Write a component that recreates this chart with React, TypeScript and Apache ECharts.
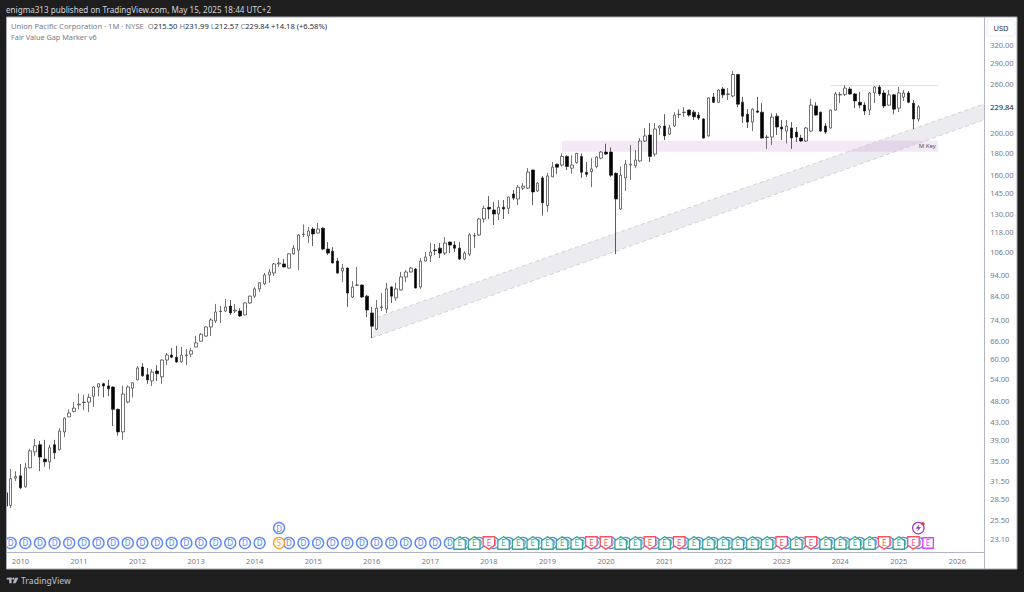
import React, { useEffect, useRef } from "react";
import * as echarts from "echarts";

// Monthly candles starting Oct 2009 (UNP)
const opens = [29.5,27.6,31.9,32.3,30.5,33.7,36.7,38.1,35.3,34.8,38.1,37.1,40.8,44.2,45.5,47.1,47.7,47.8,49.3,51.8,52.7,52.1,51.8,46.0,40.8,47.8,51.5,53.8,57.6,55.3,53.5,56.4,54.7,59.8,61.4,60.7,59.2,61.2,61.7,64.1,66.1,67.9,71.3,73.6,77.4,77.6,79.7,77.6,77.6,76.0,81.0,84.0,87.3,89.7,94.0,95.0,99.7,99.7,97.5,105.2,107.3,116.6,115.7,120.0,117.5,120.6,107.9,106.7,101.2,96.0,97.5,83.6,89.0,89.1,84.0,76.8,70.5,79.0,78.4,88.2,83.2,86.8,93.0,95.5,97.0,88.2,101.2,104.0,107.3,108.4,105.6,112.0,110.2,108.4,102.3,105.0,115.7,116.3,126.6,134.7,132.8,130.0,134.7,134.0,144.6,140.8,149.2,149.2,164.3,147.0,157.5,136.0,158.4,169.5,168.7,176.6,165.9,170.9,176.6,162.3,162.8,167.4,175.0,180.7,180.7,161.4,133.5,157.5,168.7,168.0,172.4,191.7,197.9,178.8,205.4,207.6,198.9,207.6,220.5,223.0,226.0,223.5,220.0,215.4,196.9,242.2,235.6,252.7,245.6,243.5,273.0,235.6,221.1,212.0,224.8,223.5,195.3,195.8,218.8,206.5,202.1,205.4,201.0,194.7,191.7,202.1,231.0,223.5,207.6,205.4,226.0,244.9,245.6,252.7,246.2,235.6,232.0,226.0,247.5,255.4,247.5,232.0,245.0,228.3,242.2,247.5,234.4,215.5];
const highs = [30.2,33.5,33.1,34.4,34.6,37.3,39.3,38.9,39.1,38.1,39.1,41.6,44.1,46.0,47.8,50.0,49.7,50.0,52.0,52.8,53.0,53.8,52.0,46.2,52.2,52.2,53.1,57.9,58.7,57.3,57.0,58.2,60.0,62.1,63.8,64.5,64.1,63.4,63.8,68.0,69.0,71.5,74.7,80.6,79.7,82.7,82.3,80.6,78.8,81.2,84.2,88.1,90.5,95.0,97.0,100.2,102.9,102.3,105.5,110.2,116.9,123.0,121.3,121.3,124.0,121.0,112.0,109.0,102.9,99.7,97.8,91.0,98.1,89.4,84.5,79.3,82.3,85.4,90.2,88.5,90.2,95.5,96.5,98.1,97.5,102.9,106.2,111.4,110.8,111.4,115.0,112.3,112.6,112.0,106.7,117.5,117.5,127.2,136.0,143.0,138.7,140.0,140.0,142.6,147.7,151.6,153.2,166.0,164.7,154.0,159.2,161.8,171.4,169.8,179.4,177.7,177.7,180.0,179.4,171.4,175.0,176.8,181.7,189.0,185.2,162.3,167.4,173.2,187.7,182.7,194.7,205.4,210.9,210.9,208.2,221.1,208.7,223.5,227.1,229.5,226.6,226.0,223.5,216.6,241.6,247.4,252.7,255.4,254.0,278.0,274.0,242.4,227.1,228.3,242.2,234.4,198.0,222.3,222.3,214.3,214.3,212.0,206.5,198.0,206.5,240.0,235.6,224.0,210.9,226.6,248.8,248.8,258.0,255.4,247.5,248.8,235.6,248.8,256.7,258.0,251.4,251.4,246.2,255.4,251.4,250.0,238.4,231.99];
const lows = [26.9,27.2,31.4,30.1,30.3,33.6,35.9,33.1,33.9,33.5,35.3,37.0,39.7,44.1,45.3,46.0,45.8,45.3,46.6,49.3,49.0,49.3,42.1,40.0,39.1,47.5,49.0,53.7,54.7,52.7,52.1,53.5,52.7,58.2,60.4,58.9,59.0,58.2,60.7,64.0,66.0,67.7,67.9,72.8,72.8,77.2,76.0,76.8,75.2,75.8,80.6,83.2,85.9,89.1,90.2,93.5,98.1,97.8,97.2,104.7,96.5,115.0,111.4,109.6,117.2,107.3,104.5,100.0,94.7,90.5,79.3,83.2,88.7,83.2,75.2,67.2,70.1,77.6,76.8,81.0,81.9,86.6,90.5,95.2,87.5,87.3,101.0,100.7,104.5,102.9,104.5,105.6,106.2,101.8,101.8,103.9,108.4,115.7,124.3,126.6,122.6,125.9,126.6,130.0,140.0,136.3,147.7,148.5,136.3,146.2,128.9,131.5,158.0,161.0,167.4,164.3,161.0,170.0,157.5,158.4,150.0,165.9,174.0,178.0,158.4,105.0,132.8,147.0,155.8,165.9,171.4,190.7,171.4,176.6,197.9,192.7,197.9,206.5,216.6,218.0,218.0,214.3,214.3,194.2,196.4,234.4,234.4,241.0,238.4,242.0,229.5,210.9,205.4,202.1,222.3,194.2,183.8,187.7,197.9,192.7,189.2,183.8,190.7,190.7,190.7,201.0,219.5,201.0,199.0,204.8,225.4,234.4,243.5,245.0,228.3,228.3,220.0,220.0,234.4,243.5,228.3,231.5,221.1,223.5,237.2,234.4,204.3,212.57];
const closes = [27.5,31.8,32.2,30.3,33.7,36.9,37.9,35.7,34.8,37.5,36.5,41.0,43.9,45.1,46.3,47.3,47.8,49.0,51.8,52.7,52.1,51.3,46.0,40.8,49.9,51.8,53.0,57.3,55.0,53.8,56.1,55.6,59.8,61.4,60.7,59.2,61.4,61.4,62.8,65.5,68.6,71.3,74.0,77.2,77.6,79.3,76.8,78.0,75.6,81.0,84.0,87.3,90.2,94.0,95.5,99.7,100.2,98.1,105.2,108.4,116.3,116.9,118.8,116.9,120.0,107.9,105.6,100.2,95.0,97.5,85.4,88.2,89.1,83.6,78.0,71.6,78.8,79.3,87.3,84.0,87.3,93.0,95.5,97.5,87.7,101.2,103.4,106.2,107.0,105.6,111.4,110.2,108.4,102.3,105.6,116.3,116.0,126.6,134.0,133.5,130.0,134.7,133.5,142.3,141.5,150.0,150.8,162.5,146.2,153.2,138.0,159.2,166.8,166.8,176.6,167.4,168.7,179.4,162.3,160.6,165.2,175.9,180.7,178.8,159.8,140.8,159.8,169.5,169.5,173.2,191.7,196.9,176.6,204.3,207.6,196.9,205.4,220.0,221.0,223.5,220.0,218.0,216.6,194.7,241.0,235.6,251.4,245.0,246.2,273.0,233.2,218.8,212.0,227.1,223.5,194.7,195.8,217.7,206.5,204.3,207.6,194.7,195.8,191.7,205.4,232.0,220.0,202.1,201.0,226.0,246.2,245.6,254.0,246.2,237.2,232.0,224.8,247.5,255.4,246.2,231.0,245.0,227.1,247.5,247.5,235.6,215.5,229.84];

const firstYear = 2009;
const firstMonth = 9; // zero-based, October
const categoryCount = 201;
const yTickValues = [320,290,260,229.84,200,180,160,145,130,118,106,94,84,74,66,60,54,48,43,39,35,31.5,28.5,25.5,23.1];
const lastPrice = 229.84;

// Drawn zone, resistance line and channel (category index / price)
const zoneStartIndex = 114;
const zoneEndIndex = 191;
const zoneTop = 192;
const zoneBottom = 181;
const cyanLineIndexes = [169, 191];
const cyanLinePrice = 257.5;
const channelLowerX = [75, 201];
const channelLower = [67.2, 215.5];
const channelUpperX = [76, 201];
const channelUpper = [75, 234.6];

// Event markers along the bottom (category indexes)
const dividendIndexes = [1,4,7,10,13,16,19,22,25,28,31,34,37,40,43,46,49,52,58,61,64,67,70,73,76,79,82,85,88,91,94,97,100,103,106,109,112,115,118,121,124,127,130,133,136,139,142,145,148,151,154,157,160,163,166,169,172,175,178,181,184,187];
const dividendUpperIndexes = [56];
const splitIndexes = [56];
const earningsBeat = [93,96,102,105,108,111,114,117,126,129,135,141,144,147,150,153,156,162,168,171,174,177,183];
const earningsMiss = [99,120,123,132,138,159,165,180,186];
const earningsNext = [189];
const flashIndexes = [187];
const markerRowPrice = 22.6;
const upperRowPrice = 24.46;

const W = 1024, H = 592;
const FONT = "'Noto Sans', sans-serif";
const GRAY = "#787b86";
const INK = "#2a2e39";

const categories: string[] = [];
for (let i = 0; i < categoryCount; i++) {
  const m = firstMonth + i;
  categories.push(`${firstYear + Math.floor(m / 12)}-${String((m % 12) + 1).padStart(2, "0")}`);
}

const row = (idx: number[], p: number) => idx.map((i) => [i, p]);

function markerSeries(name: string, data: number[][], symbol: string, size: any, color: string, letter: string, z: number) {
  return {
    name, type: "scatter", data, symbol, symbolSize: size, z, silent: true, clip: false,
    itemStyle: { color: "#ffffff", borderColor: color, borderWidth: 1.35, opacity: 1 },
    label: { show: true, position: "inside", formatter: letter, color, fontSize: 8, fontFamily: FONT },
  };
}

const housePath = "path://M6 0 L12 4 L12 13 L0 13 L0 4 Z";
const shieldPath = "path://M0 0 L12 0 L12 9 L6 13 L0 9 Z";
const boltPath = "path://M6 0 L1 7 L4.5 7 L3 12 L8.5 4.5 L5 4.5 Z";

function chartOption() {
  return {
    animation: false,
    backgroundColor: "#ffffff",
    textStyle: { fontFamily: FONT },
    grid: { left: 3.36, top: 17, width: 980.84, height: 535, containLabel: false },
    xAxis: {
      type: "category",
      data: categories,
      boundaryGap: true,
      axisLine: { show: true, lineStyle: { color: "#b2b5be", width: 1 } },
      axisTick: { show: false },
      splitLine: { show: false },
      axisLabel: {
        color: GRAY, fontSize: 7.5, margin: 5, fontFamily: FONT,
        interval: (i: number, v: string) => v.endsWith("-01"),
        formatter: (v: string) => v.slice(0, 4),
      },
    },
    yAxis: {
      type: "log",
      position: "right",
      min: 21.54,
      max: 370.7,
      logBase: Math.E,
      splitLine: { show: false },
      axisTick: { show: false },
      axisLine: { show: false },
      axisLabel: {
        customValues: yTickValues,
        align: "left",
        margin: 6,
        fontSize: 7.5,
        fontFamily: FONT,
        color: (v: any) => (Number(v) === lastPrice ? "#131722" : GRAY),
        formatter: (v: any) => Number(v).toFixed(2),
      },
    },
    series: [
      {
        name: "Channel",
        type: "custom",
        z: 1,
        clip: true,
        silent: true,
        data: [[channelLowerX[0], channelLower[0]]],
        encode: { x: 0, y: 1 },
        renderItem: (_p: any, api: any) => {
          const a = api.coord([channelLowerX[0], channelLower[0]]);
          const b = api.coord([channelLowerX[1], channelLower[1]]);
          const c = api.coord([channelUpperX[1], channelUpper[1]]);
          const d = api.coord([channelUpperX[0], channelUpper[0]]);
          const dash = { stroke: "#cfd1d8", lineWidth: 1, lineDash: [4, 3] };
          return {
            type: "group",
            children: [
              { type: "polygon", shape: { points: [a, b, c, d] }, style: { fill: "rgba(118,122,150,0.14)" } },
              { type: "line", shape: { x1: a[0], y1: a[1], x2: b[0], y2: b[1] }, style: dash },
              { type: "line", shape: { x1: d[0], y1: d[1], x2: c[0], y2: c[1] }, style: dash },
            ],
          };
        },
      },
      {
        name: "Resistance",
        type: "line",
        z: 1,
        silent: true,
        symbol: "none",
        data: row(cyanLineIndexes, cyanLinePrice),
        lineStyle: { color: "#bff0f0", width: 1 },
      },
      {
        name: "UNP",
        type: "candlestick",
        z: 2,
        barWidth: 3,
        data: opens.map((o, i) => [o, closes[i], lows[i], highs[i]]),
        itemStyle: {
          color: "#ffffff",
          color0: "#000000",
          borderColor: "#3a3a3a",
          borderColor0: "#1a1a1a",
          borderWidth: 0.7,
        },
        markArea: {
          silent: true,
          itemStyle: { color: "rgba(156,39,176,0.11)" },
          label: { show: true, position: "insideRight", formatter: "M Key", color: "#50535e", fontSize: 6, fontFamily: FONT, distance: 2 },
          data: [[{ xAxis: zoneStartIndex, yAxis: zoneTop }, { xAxis: zoneEndIndex, yAxis: zoneBottom }]],
        },
      },
      markerSeries("Dividends", row(dividendIndexes, markerRowPrice), "circle", 11, "#5b86f5", "D", 3),
      markerSeries("Dividends upper", row(dividendUpperIndexes, upperRowPrice), "circle", 11, "#5b86f5", "D", 4),
      markerSeries("Split", row(splitIndexes, markerRowPrice), "circle", 11, "#ff9f1a", "S", 4),
      markerSeries("Earnings beat", row(earningsBeat, markerRowPrice), housePath, [11.5, 12.5], "#35a78f", "E", 5),
      markerSeries("Earnings miss", row(earningsMiss, markerRowPrice), shieldPath, [11.5, 12.5], "#f7525f", "E", 6),
      markerSeries("Earnings next", row(earningsNext, markerRowPrice), "rect", 10.5, "#e040fb", "E", 6),
      {
        name: "Flash ring", type: "scatter", data: row(flashIndexes, upperRowPrice), symbol: "circle", symbolSize: 11.5, z: 6, silent: true, clip: false,
        itemStyle: { color: "#ffffff", borderColor: "#9c3fc4", borderWidth: 1.2, opacity: 1 },
      },
      {
        name: "Flash bolt", type: "scatter", data: row(flashIndexes, upperRowPrice), symbol: boltPath, symbolSize: [5.5, 8], z: 7, silent: true, clip: false,
        itemStyle: { color: "#9c3fc4", opacity: 1 },
      },
      {
        name: "Flash dot", type: "scatter", data: row(flashIndexes, upperRowPrice), symbol: "circle", symbolSize: 3.5, symbolOffset: [4.6, -4.4], z: 8, silent: true, clip: false,
        itemStyle: { color: "#f23645", opacity: 1 },
      },
    ],
    graphic: [
      // dark frame round the chart
      { type: "rect", z: 100, silent: true, shape: { x: 0, y: 0, width: W, height: 17 }, style: { fill: "#1e1e1e" } },
      { type: "rect", z: 100, silent: true, shape: { x: 0, y: 569, width: W, height: 23 }, style: { fill: "#1e1e1e" } },
      { type: "rect", z: 100, silent: true, shape: { x: 0, y: 0, width: 6.5, height: H }, style: { fill: "#1e1e1e" } },
      { type: "rect", z: 100, silent: true, shape: { x: 1017, y: 0, width: 7, height: H }, style: { fill: "#1e1e1e" } },
      { type: "rect", z: 101, silent: true, shape: { x: 6.5, y: 17, width: 1010.5, height: 552 }, style: { fill: "none", stroke: "#a8abb3", lineWidth: 1 } },
      { type: "line", z: 101, silent: true, shape: { x1: 984.5, y1: 17, x2: 984.5, y2: 569 }, style: { stroke: "#b2b5be", lineWidth: 1 } },
      // header
      { type: "text", z: 102, silent: true, x: 6, y: 9, style: { text: "enigma313 published on TradingView.com, May 15, 2025 18:44 UTC+2", fill: "#d1d4dc", fontSize: 8.1, fontFamily: FONT, textVerticalAlign: "middle" } },
      {
        type: "text", z: 102, silent: true, x: 11, y: 26,
        style: {
          text: "{g|Union Pacific Corporation · 1M · NYSE  O}{k|215.50} {g|H}{k|231.99} {g|L}{k|212.57} {g|C}{k|229.84} {k|+14.18 (+6.58%)}",
          fontSize: 7.6, fontFamily: FONT, textVerticalAlign: "middle",
          rich: {
            g: { fill: GRAY, fontSize: 7.6, fontFamily: FONT },
            k: { fill: INK, fontSize: 7.6, fontFamily: FONT },
          },
        },
      },
      { type: "text", z: 102, silent: true, x: 11, y: 37, style: { text: "Fair Value Gap Marker v6", fill: GRAY, fontSize: 7.3, fontFamily: FONT, textVerticalAlign: "middle" } },
      // currency box
      { type: "rect", z: 102, silent: true, shape: { x: 987, y: 20, width: 28, height: 16, r: 2 }, style: { fill: "#ffffff", stroke: "#eceef3", lineWidth: 1 } },
      { type: "text", z: 103, silent: true, x: 1001, y: 28, style: { text: "USD", fill: "#2a2e39", fontSize: 7.5, fontFamily: FONT, textAlign: "center", textVerticalAlign: "middle" } },
      // footer logo and wordmark
      {
        type: "group", z: 102, silent: true,
        children: [
          { type: "rect", z: 102, shape: { x: 6.7, y: 577.7, width: 5, height: 1.9 }, style: { fill: "#b2b5be" } },
          { type: "rect", z: 102, shape: { x: 9.2, y: 577.7, width: 2.4, height: 5.6 }, style: { fill: "#b2b5be" } },
          { type: "circle", z: 102, shape: { cx: 13.2, cy: 578.7, r: 1 }, style: { fill: "#b2b5be" } },
          { type: "polygon", z: 102, shape: { points: [[15, 577.7], [18.4, 577.7], [15.6, 583.3], [12.8, 583.3]] }, style: { fill: "#b2b5be" } },
        ],
      },
      { type: "text", z: 102, silent: true, x: 21, y: 580.7, style: { text: "TradingView", fill: "#b2b5be", fontSize: 8.5, fontFamily: FONT, fontWeight: 500, textVerticalAlign: "middle" } },
    ],
  };
}

export default function App() {
  const ref = useRef<HTMLDivElement>(null);
  useEffect(() => {
    const chart = echarts.init(ref.current!, undefined, { renderer: "svg" });
    chart.setOption(chartOption() as any);
    return () => chart.dispose();
  }, []);
  return <div ref={ref} style={{ position: "fixed", left: 0, top: 0, width: W, height: H }} />;
}
